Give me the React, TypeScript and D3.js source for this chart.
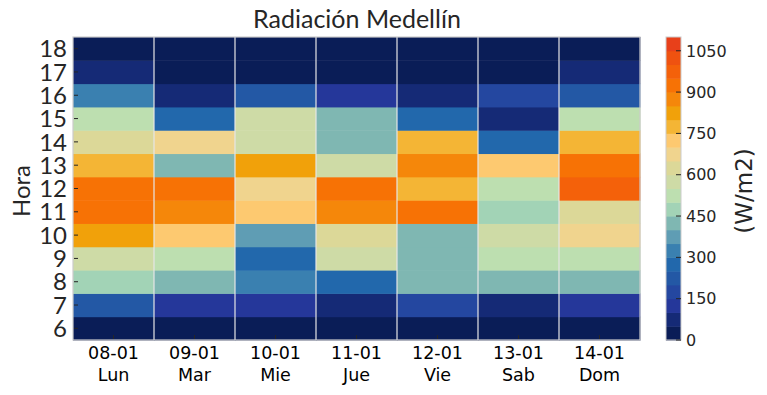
import React from "react";
import * as d3 from "d3";

const days = ["08-01", "09-01", "10-01", "11-01", "12-01", "13-01", "14-01"];
const dayNames = ["Lun", "Mar", "Mie", "Jue", "Vie", "Sab", "Dom"];
const hours = [6, 7, 8, 9, 10, 11, 12, 13, 14, 15, 16, 17, 18];

// values per day, hours 6..18 (W/m2)
const lun = [20, 225, 475, 575, 825, 925, 925, 775, 625, 525, 325, 75, 20];
const mar = [20, 125, 425, 525, 725, 875, 925, 425, 675, 275, 75, 20, 20];
const mie = [20, 125, 325, 275, 375, 725, 675, 825, 575, 575, 225, 20, 20];
const jue = [20, 75, 275, 575, 625, 875, 925, 575, 425, 425, 125, 20, 20];
const vie = [20, 175, 425, 425, 425, 925, 775, 875, 775, 275, 75, 20, 20];
const sab = [20, 75, 425, 525, 575, 475, 525, 725, 275, 75, 175, 20, 20];
const dom = [20, 125, 425, 525, 675, 625, 975, 925, 775, 525, 225, 75, 20];
const series = [lun, mar, mie, jue, vie, sab, dom];

const cbTicks = [0, 150, 300, 450, 600, 750, 900, 1050];
const levels = d3.range(50, 1100, 50);
const palette = [
  "#0a1d57", "#152a76", "#25379a", "#2447a0", "#2358a5", "#2268ac",
  "#3a80b0", "#5f9db4", "#7fb7b2", "#a2d3b6", "#bddfb0", "#cedba6",
  "#dcd898", "#f0d48e", "#fdc970", "#f4b535", "#f1a10a", "#f5870a",
  "#f77205", "#f4610a", "#ef5210", "#e8401a",
];

const W = 767, H = 395;
const left = 73, right = 640, top = 37, bottom = 340;
const txt = "#262626";

export default function App() {
  const x = d3.scaleBand<string>().domain(days).range([left, right]);
  const y = d3.scaleBand<number>().domain(hours).range([bottom, top]);
  const color = d3.scaleThreshold<number, string>().domain(levels).range(palette);
  const cbL = 666, cbR = 681;
  const cy = d3.scaleLinear().domain([0, 1100]).range([bottom, top]);
  const bins = d3.range(0, 1100, 50);

  return (
    <svg width={W} height={H} style={{ position: "absolute", left: 0, top: 0 }}>
      <rect x={0} y={0} width={W} height={H} fill="#fff" />
      <text x={357} y={28} textAnchor="middle" fontFamily="Lato" fontSize={25} fill={txt}>
        Radiación Medellín
      </text>
      {series.map((vals, i) =>
        vals.map((v, j) => (
          <rect key={`${i}-${j}`} x={x(days[i])!} y={y(hours[j])!} width={x.bandwidth() + 0.5}
            height={y.bandwidth() + 0.5} fill={color(v)} />
        ))
      )}
      {days.slice(1).map((d) => (
        <line key={d} x1={x(d)!} x2={x(d)!} y1={top} y2={bottom} stroke="#e6e6e6" strokeWidth={1.2} />
      ))}
      <rect x={left} y={top} width={right - left} height={bottom - top} fill="none" stroke="#cccccc" strokeWidth={1.2} />
      {hours.map((h) => {
        const yy = y(h)! + y.bandwidth() / 2;
        return (
          <g key={h}>
            <line x1={left + 1} x2={left + 5} y1={yy} y2={yy} stroke={txt} strokeWidth={1} />
            <text x={67} y={yy} dy="0.36em" textAnchor="end" fontFamily="Lato" fontSize={24} fill={txt}>{h}</text>
          </g>
        );
      })}
      {days.map((d, i) => {
        const xx = x(d)! + x.bandwidth() / 2;
        return (
          <g key={d}>
            <line x1={xx} x2={xx} y1={bottom - 1} y2={bottom - 5} stroke={txt} strokeWidth={1} />
            <text x={xx} y={359} textAnchor="middle" fontFamily="DejaVu Sans" fontSize={17.5} fill="#000">{d}</text>
            <text x={xx} y={381} textAnchor="middle" fontFamily="DejaVu Sans" fontSize={17.5} fill="#000">{dayNames[i]}</text>
          </g>
        );
      })}
      <text transform={`translate(30,191) rotate(-90)`} textAnchor="middle" fontFamily="Lato" fontSize={24} fill={txt}>Hora</text>
      {bins.map((b) => (
        <rect key={b} x={cbL} y={cy(b + 50)} width={cbR - cbL} height={cy(b) - cy(b + 50) + 0.5} fill={color(b + 25)} />
      ))}
      <rect x={cbL} y={top} width={cbR - cbL} height={bottom - top} fill="none" stroke="#cccccc" strokeWidth={1} />
      {cbTicks.map((t) => (
        <g key={t}>
          <line x1={cbR - 5} x2={cbR} y1={cy(t)} y2={cy(t)} stroke={txt} strokeWidth={1} />
          <text x={686} y={cy(t)} dy="0.36em" fontFamily="DejaVu Sans" fontSize={16} fill={txt}>{t}</text>
        </g>
      ))}
      <text transform={`translate(752,191) rotate(-90)`} textAnchor="middle" fontFamily="DejaVu Sans" fontSize={23} fill={txt}>(W/m2)</text>
    </svg>
  );
}
